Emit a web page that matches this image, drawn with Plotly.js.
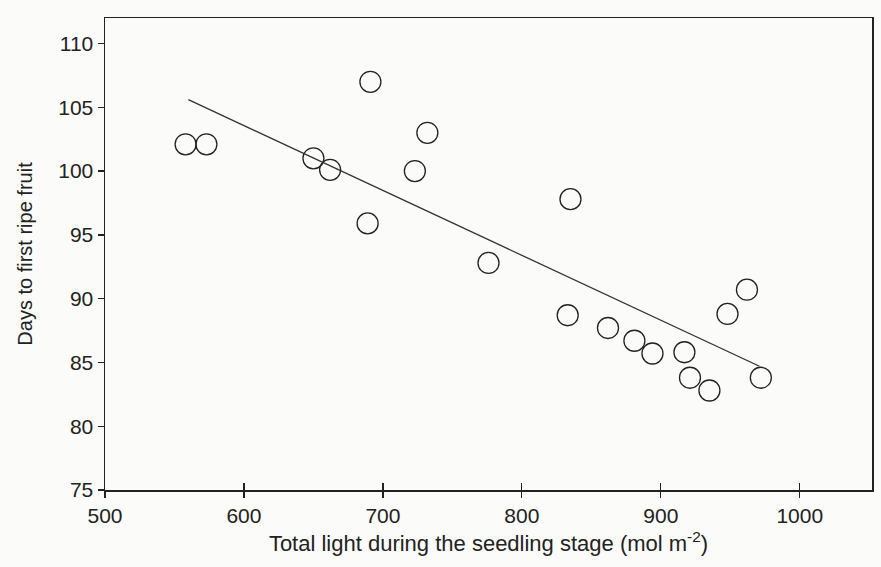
<!DOCTYPE html>
<html>
<head>
<meta charset="utf-8">
<script src="https://cdn.plot.ly/plotly-3.0.1.min.js"></script>
<style>
  html, body { margin: 0; padding: 0; background: #fbfbfa; }
  #chart { width: 881px; height: 567px; }
</style>
</head>
<body>
<div id="chart"></div>
<script>
// Total light during the seedling stage (mol m-2)
var lightX = [558, 573, 650, 662, 691, 689, 723, 732, 776, 835, 833, 862, 881, 894, 917, 921, 935, 948, 962, 972];
// Days to first ripe fruit
var daysY = [102.1, 102.1, 101.0, 100.1, 107.0, 95.9, 100.0, 103.0, 92.8, 97.8, 88.7, 87.7, 86.7, 85.7, 85.8, 83.8, 82.8, 88.8, 90.7, 83.8];
// Fitted regression line end points
var fitX = [560, 971];
var fitY = [105.6, 84.7];
// Tick labels
var xTicks = [500, 600, 700, 800, 900, 1000];
var yTicks = [75, 80, 85, 90, 95, 100, 105, 110];

var ink = '#222222';
var fontFam = 'Liberation Sans, Arial, Helvetica, sans-serif';

var traces = [
  {
    x: fitX, y: fitY, type: 'scatter', mode: 'lines',
    xaxis: 'x2', yaxis: 'y',
    line: { color: '#333333', width: 1.3 },
    hoverinfo: 'skip', showlegend: false
  },
  {
    x: lightX, y: daysY, type: 'scatter', mode: 'markers',
    marker: { symbol: 'circle-open', size: 21, color: ink, line: { width: 1.3, color: ink } },
    showlegend: false
  }
];

var layout = {
  width: 881, height: 567,
  paper_bgcolor: '#fbfbfa', plot_bgcolor: 'rgba(0,0,0,0)',
  margin: { l: 105, r: 9, t: 18, b: 77 },
  font: { family: fontFam, color: ink },
  showlegend: false,
  xaxis: {
    range: [500, 1052], tickvals: xTicks, ticktext: xTicks.map(String),
    showgrid: false, zeroline: false,
    showline: true, mirror: true, linecolor: ink, linewidth: 1.5,
    ticks: 'outside', ticklen: 6, tickwidth: 1.3, tickcolor: ink,
    tickfont: { size: 21, color: ink },
    title: { text: 'Total light during the seedling stage (mol m<sup>-2</sup>)', font: { size: 22, color: ink }, standoff: 10 }
  },
  xaxis2: {
    matches: 'x', overlaying: 'x', anchor: 'y', side: 'bottom',
    tickvals: xTicks, showticklabels: false,
    showgrid: false, zeroline: false, showline: false,
    ticks: 'inside', ticklen: 7, tickwidth: 1.3, tickcolor: ink
  },
  yaxis: {
    range: [75, 112], tickvals: yTicks, ticktext: yTicks.map(String),
    showgrid: false, zeroline: false,
    showline: true, mirror: true, linecolor: ink, linewidth: 1.5,
    ticks: 'outside', ticklen: 6, tickwidth: 1.3, tickcolor: ink,
    tickfont: { size: 21, color: ink },
    title: { text: 'Days to first ripe fruit', font: { size: 20, color: ink }, standoff: 20 }
  }
};

Plotly.newPlot('chart', traces, layout, { displayModeBar: false, staticPlot: true });
</script>
</body>
</html>
